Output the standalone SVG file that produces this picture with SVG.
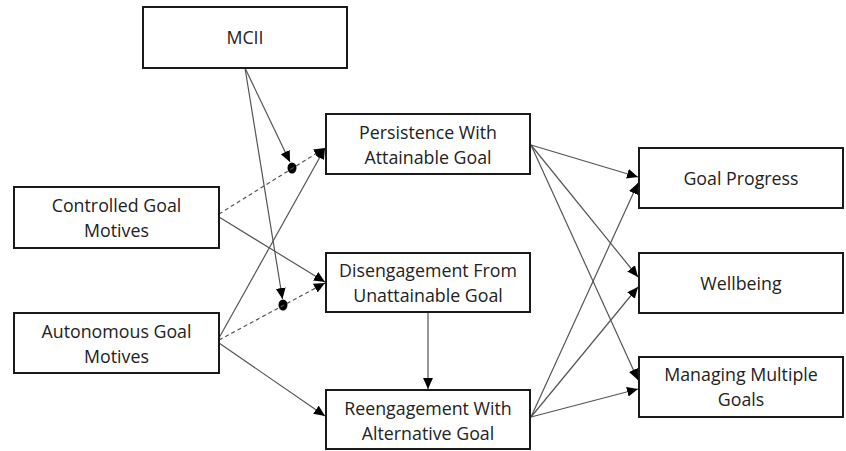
<svg xmlns="http://www.w3.org/2000/svg" width="846" height="451" viewBox="0 0 846 451">
<style>
.box{fill:#fff;stroke:#1a1a1a;stroke-width:2}
.t{font-family:"Open Sans","Liberation Sans",sans-serif;font-size:17.8px;fill:#222;text-anchor:middle}
.c{stroke:#555;stroke-width:1.2;fill:none}
.d{stroke-dasharray:4,3}
</style>
<defs>
<marker id="ah" viewBox="0 0 10 10" refX="10" refY="5" markerWidth="11" markerHeight="11" markerUnits="userSpaceOnUse" orient="auto">
<path d="M0,0.5 L10,5 L0,9.5 z" fill="#000"/>
</marker>
</defs>
<rect width="846" height="451" fill="#fff"/>
<g id="connectors">
<line class="c" x1="245" y1="68" x2="290" y2="162" marker-end="url(#ah)"/>
<line class="c" x1="245" y1="68" x2="282.5" y2="299" marker-end="url(#ah)"/>
<ellipse cx="292" cy="168" rx="4.5" ry="5.5" fill="#000"/>
<ellipse cx="283" cy="305" rx="4.5" ry="5.5" fill="#000"/>
<line class="c d" x1="219" y1="214" x2="325" y2="148" marker-end="url(#ah)"/>
<line class="c" x1="219" y1="217" x2="325" y2="282" marker-end="url(#ah)"/>
<line class="c d" x1="219" y1="340" x2="325" y2="283" marker-end="url(#ah)"/>
<line class="c" x1="219" y1="338" x2="325" y2="148" marker-end="url(#ah)"/>
<line class="c" x1="219" y1="343" x2="325" y2="416" marker-end="url(#ah)"/>
<line class="c" x1="428" y1="313" x2="428" y2="389" marker-end="url(#ah)"/>
<line class="c" x1="531" y1="145" x2="638" y2="177" marker-end="url(#ah)"/>
<line class="c" x1="531" y1="145" x2="638" y2="277" marker-end="url(#ah)"/>
<line class="c" x1="531" y1="145" x2="638" y2="380" marker-end="url(#ah)"/>
<line class="c" x1="531" y1="417" x2="638" y2="183" marker-end="url(#ah)"/>
<line class="c" x1="531" y1="417" x2="638" y2="287" marker-end="url(#ah)"/>
<line class="c" x1="531" y1="417" x2="638" y2="389" marker-end="url(#ah)"/>
</g>
<g id="mcii"><rect class="box" x="143" y="7" width="204" height="61"/><text class="t" x="245" y="44">MCII</text></g>
<g id="controlled"><rect class="box" x="14" y="187" width="205" height="61"/><text class="t" x="116.5" y="212">Controlled Goal</text><text class="t" x="116.5" y="237">Motives</text></g>
<g id="autonomous"><rect class="box" x="14" y="313" width="205" height="60"/><text class="t" x="116.5" y="338">Autonomous Goal</text><text class="t" x="116.5" y="363">Motives</text></g>
<g id="persistence"><rect class="box" x="326" y="114" width="204" height="60"/><text class="t" x="428" y="139">Persistence With</text><text class="t" x="428" y="164">Attainable Goal</text></g>
<g id="disengagement"><rect class="box" x="326" y="253" width="204" height="59"/><text class="t" x="428" y="277">Disengagement From</text><text class="t" x="428" y="302">Unattainable Goal</text></g>
<g id="reengagement"><rect class="box" x="326" y="390" width="204" height="59"/><text class="t" x="428" y="415">Reengagement With</text><text class="t" x="428" y="440">Alternative Goal</text></g>
<g id="goalprogress"><rect class="box" x="639" y="148" width="204" height="60"/><text class="t" x="741" y="185">Goal Progress</text></g>
<g id="wellbeing"><rect class="box" x="639" y="253" width="204" height="60"/><text class="t" x="741" y="290">Wellbeing</text></g>
<g id="managing"><rect class="box" x="639" y="357" width="204" height="60"/><text class="t" x="741" y="381">Managing Multiple</text><text class="t" x="741" y="406">Goals</text></g>
</svg>
